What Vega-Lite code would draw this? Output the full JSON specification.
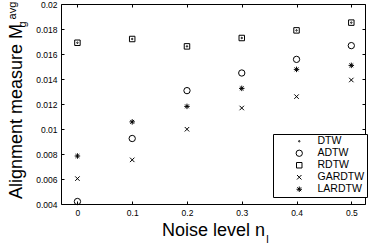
{
  "$schema": "https://vega.github.io/schema/vega-lite/v6.json",
  "width": 304,
  "height": 200,
  "autosize": {"type": "none"},
  "padding": {"left": 61, "top": 4, "right": 4, "bottom": 40},
  "config": {
    "view": {"stroke": "black", "strokeWidth": 1},
    "font": "Liberation Sans",
    "axis": {"grid": false, "domain": false, "tickColor": "black", "labelColor": "black", "titleColor": "black", "labelFont": "Liberation Sans", "titleFont": "Liberation Sans", "titleFontWeight": "normal", "labelFontSize": 8.5, "tickSize": -3, "tickWidth": 1},
    "legend": {"orient": "none", "legendX": 212, "legendY": 130, "strokeColor": "black", "fillColor": "white", "padding": 2, "labelFontSize": 10.5, "labelFont": "Liberation Sans", "labelColor": "black", "rowPadding": 1, "symbolOffset": 19, "labelOffset": 13, "symbolStrokeWidth": 1}
  },
  "data": {"values": [
    {"series": "DTW", "x": 0, "y": 0.0169},
    {"series": "DTW", "x": 0.1, "y": 0.0172},
    {"series": "DTW", "x": 0.2, "y": 0.01661},
    {"series": "DTW", "x": 0.3, "y": 0.01728},
    {"series": "DTW", "x": 0.4, "y": 0.01789},
    {"series": "DTW", "x": 0.5, "y": 0.01851},
    {"series": "ADTW", "x": 0, "y": 0.0042},
    {"series": "ADTW", "x": 0.1, "y": 0.00924},
    {"series": "ADTW", "x": 0.2, "y": 0.01307},
    {"series": "ADTW", "x": 0.3, "y": 0.01448},
    {"series": "ADTW", "x": 0.4, "y": 0.01557},
    {"series": "ADTW", "x": 0.5, "y": 0.01667},
    {"series": "RDTW", "x": 0, "y": 0.0169},
    {"series": "RDTW", "x": 0.1, "y": 0.0172},
    {"series": "RDTW", "x": 0.2, "y": 0.01661},
    {"series": "RDTW", "x": 0.3, "y": 0.01728},
    {"series": "RDTW", "x": 0.4, "y": 0.01789},
    {"series": "RDTW", "x": 0.5, "y": 0.01851},
    {"series": "GARDTW", "x": 0, "y": 0.00603},
    {"series": "GARDTW", "x": 0.1, "y": 0.00753},
    {"series": "GARDTW", "x": 0.2, "y": 0.00998},
    {"series": "GARDTW", "x": 0.3, "y": 0.01168},
    {"series": "GARDTW", "x": 0.4, "y": 0.01259},
    {"series": "GARDTW", "x": 0.5, "y": 0.01392},
    {"series": "LARDTW", "x": 0, "y": 0.00784},
    {"series": "LARDTW", "x": 0.1, "y": 0.01057},
    {"series": "LARDTW", "x": 0.2, "y": 0.01181},
    {"series": "LARDTW", "x": 0.3, "y": 0.01325},
    {"series": "LARDTW", "x": 0.4, "y": 0.01477},
    {"series": "LARDTW", "x": 0.5, "y": 0.01509}
  ]},
  "layer": [
    {
      "mark": {"type": "point", "filled": false, "opacity": 1, "strokeWidth": 1, "color": "black"},
      "encoding": {
        "x": {"field": "x", "type": "quantitative", "scale": {"domain": [-0.03, 0.525], "nice": false, "zero": false},
          "axis": {"orient": "bottom", "values": [0, 0.1, 0.2, 0.3, 0.4, 0.5], "format": "~g", "title": "Noise level n", "titleFontSize": 18, "titleBaseline": "alphabetic", "titleY": 31, "labelPadding": 7}},
        "y": {"field": "y", "type": "quantitative", "scale": {"domain": [0.004, 0.02], "nice": false, "zero": false},
          "axis": {"orient": "left", "values": [0.004, 0.006, 0.008, 0.01, 0.012, 0.014, 0.016, 0.018, 0.02], "format": "~g", "title": "Alignment measure M", "titleFontSize": 18, "titleBaseline": "alphabetic", "titleAlign": "center", "titleAngle": -90, "titleX": -40, "titleY": 107, "labelPadding": 7}},
        "shape": {"field": "series", "type": "nominal",
          "scale": {"domain": ["DTW", "ADTW", "RDTW", "GARDTW", "LARDTW"], "range": ["circle", "circle", "square", "M-1,-1L1,1M-1,1L1,-1", "M-1,0L1,0M0,-1L0,1M-0.7,-0.7L0.7,0.7M-0.7,0.7L0.7,-0.7"]},
          "legend": {"title": null}},
        "size": {"field": "series", "type": "nominal",
          "scale": {"type": "ordinal", "domain": ["DTW", "ADTW", "RDTW", "GARDTW", "LARDTW"], "range": [2, 40, 30, 20, 30]},
          "legend": {"title": null}}
      }
    },
    {
      "mark": {"type": "point", "opacity": 0},
      "encoding": {
        "x": {"field": "x", "type": "quantitative", "scale": {"domain": [-0.03, 0.525], "nice": false, "zero": false},
          "axis": {"orient": "top", "values": [0, 0.1, 0.2, 0.3, 0.4, 0.5], "labels": false, "title": null}},
        "y": {"field": "y", "type": "quantitative", "scale": {"domain": [0.004, 0.02], "nice": false, "zero": false},
          "axis": {"orient": "right", "values": [0.004, 0.006, 0.008, 0.01, 0.012, 0.014, 0.016, 0.018, 0.02], "labels": false, "title": null}}
      }
    },
    {
      "mark": {"type": "point", "opacity": 0},
      "encoding": {
        "x": {"field": "x", "type": "quantitative", "scale": {"domain": [-0.03, 0.525], "nice": false, "zero": false},
          "axis": {"orient": "bottom", "values": [0], "labels": false, "ticks": false, "title": "l", "titleFontSize": 11, "titleBaseline": "alphabetic", "titleAlign": "center", "titleX": 206, "titleY": 38}},
        "y": {"field": "y", "type": "quantitative", "scale": {"domain": [0.004, 0.02], "nice": false, "zero": false},
          "axis": {"orient": "left", "values": [0.004], "labels": false, "ticks": false, "title": "avg", "titleFontSize": 11, "titleBaseline": "alphabetic", "titleAlign": "center", "titleAngle": -90, "titleX": -46, "titleY": 6}}
      }
    },
    {
      "mark": {"type": "point", "opacity": 0},
      "encoding": {
        "x": {"field": "x", "type": "quantitative", "scale": {"domain": [-0.03, 0.525], "nice": false, "zero": false}, "axis": null},
        "y": {"field": "y", "type": "quantitative", "scale": {"domain": [0.004, 0.02], "nice": false, "zero": false},
          "axis": {"orient": "left", "values": [0.004], "labels": false, "ticks": false, "title": "g", "titleFontSize": 11, "titleBaseline": "alphabetic", "titleAlign": "center", "titleAngle": -90, "titleX": -36, "titleY": 20}}
      }
    }
  ],
  "resolve": {"scale": {"x": "independent", "y": "independent"}, "axis": {"x": "independent", "y": "independent"}}
}
